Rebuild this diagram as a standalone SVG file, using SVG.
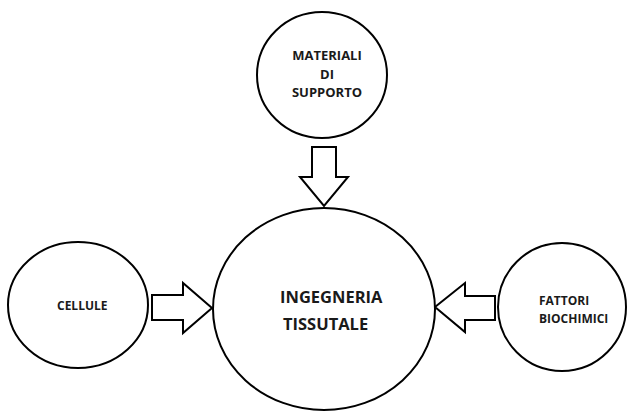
<svg xmlns="http://www.w3.org/2000/svg" width="630" height="412" viewBox="0 0 630 412">
<style>
.n{fill:#fff;stroke:#000;stroke-width:2}
.a{fill:#fff;stroke:#000;stroke-width:2;stroke-linejoin:miter}
.t{font-family:"Open Sans","Liberation Sans",sans-serif;font-weight:bold;fill:#1a1a1a}
</style>
<rect width="630" height="412" fill="#fff"/>
<g id="connectors">
<path class="a" d="M312,147 H336 V177 H348 L324,206 L300,177 H312 Z"/>
<path class="a" d="M152,295 H183 V283 L212,308 L183,333 V320 H152 Z"/>
<path class="a" d="M495,296 H465 V283 L435,307 L465,332 V320 H495 Z"/>
</g>
<g id="materiali">
<ellipse class="n" cx="322" cy="75" rx="65" ry="63"/>
<text class="t" font-size="13" text-anchor="middle"><tspan x="327" y="60">MATERIALI</tspan><tspan x="327" y="79">DI</tspan><tspan x="327" y="97">SUPPORTO</tspan></text>
</g>
<g id="ingegneria">
<ellipse class="n" cx="324" cy="309" rx="111" ry="101"/>
<text class="t" font-size="16.5"><tspan x="280" y="303">INGEGNERIA</tspan><tspan x="283" y="330">TISSUTALE</tspan></text>
</g>
<g id="cellule">
<ellipse class="n" cx="78" cy="305" rx="70" ry="63"/>
<text class="t" font-size="12" x="57" y="310">CELLULE</text>
</g>
<g id="fattori">
<ellipse class="n" cx="562" cy="307" rx="64" ry="64"/>
<text class="t" font-size="12"><tspan x="539" y="305">FATTORI</tspan><tspan x="539" y="323">BIOCHIMICI</tspan></text>
</g>
</svg>
